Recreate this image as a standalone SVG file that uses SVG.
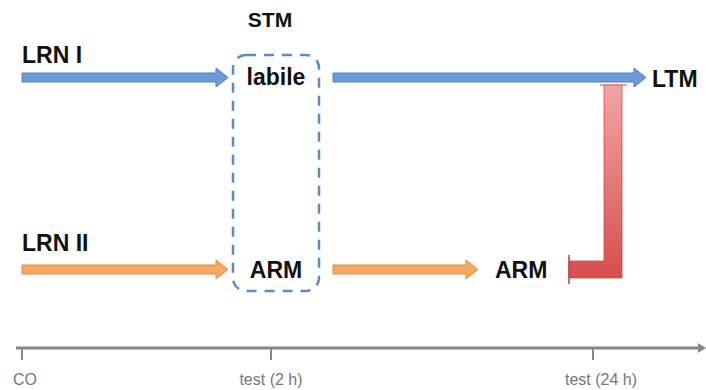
<svg xmlns="http://www.w3.org/2000/svg" width="706" height="390" viewBox="0 0 706 390">
<style>
.lbl{font-family:"Liberation Sans",Arial,sans-serif;font-weight:bold;font-size:23px;fill:#111}
.tl{font-family:"Liberation Sans",Arial,sans-serif;font-size:16px;fill:#777}
.blue{fill:#6b9bd8;stroke:#4f7fbf;stroke-width:1}
.orange{fill:#f5a860;stroke:#e08c3c;stroke-width:1}
</style>
<defs>
<linearGradient id="red" x1="0" y1="0" x2="0" y2="1">
<stop offset="0" stop-color="#f2a5a5"/>
<stop offset="1" stop-color="#d94d4d"/>
</linearGradient>
</defs>
<rect width="706" height="390" fill="#fff"/>
<g id="connectors">
<path class="blue" d="M22,73 H216 V68 L228,77.5 L216,87 V82 H22 Z"/>
<path class="blue" d="M333,73 H634 V68 L646,77.5 L634,87 V82 H333 Z"/>
<path class="orange" d="M22,265 H216 V260 L228,269.5 L216,279 V274 H22 Z"/>
<path class="orange" d="M333,265 H466 V260 L478,269.5 L466,279 V274 H333 Z"/>
<path d="M604,85 H622 V278 H569 V261 H604 Z" fill="url(#red)" stroke="#c84a4a" stroke-width="0.8"/>
<line x1="569" y1="255" x2="569" y2="284" stroke="#b04040" stroke-width="1.5"/>
<line x1="600" y1="85" x2="627" y2="85" stroke="#d58a8a" stroke-width="1.5"/>
</g>
<g id="stm">
<rect x="233" y="55" width="86" height="236" rx="13" fill="none" stroke="#5b8bc9" stroke-width="2.5" stroke-dasharray="10,8"/>
<text class="lbl" x="270" y="27" text-anchor="middle" style="font-size:21px">STM</text>
</g>
<g id="lrn1"><text class="lbl" x="22" y="63">LRN I</text></g>
<g id="labile"><text class="lbl" x="276" y="85" text-anchor="middle">labile</text></g>
<g id="ltm"><text class="lbl" x="652" y="87">LTM</text></g>
<g id="lrn2"><text class="lbl" x="22" y="251">LRN II</text></g>
<g id="arm1"><text class="lbl" x="276" y="278" text-anchor="middle">ARM</text></g>
<g id="arm2"><text class="lbl" x="495" y="278">ARM</text></g>
<g id="timeline">
<line x1="16" y1="348" x2="703" y2="348" stroke="#888" stroke-width="3"/>
<path d="M698,343 L706,348 L698,353 Z" fill="#888"/>
<line x1="22" y1="347" x2="22" y2="360" stroke="#888" stroke-width="2"/>
<line x1="271" y1="347" x2="271" y2="360" stroke="#888" stroke-width="2"/>
<line x1="593" y1="347" x2="593" y2="360" stroke="#888" stroke-width="2"/>
<text class="tl" x="13" y="385">CO</text>
<text class="tl" x="271" y="385" text-anchor="middle">test (2 h)</text>
<text class="tl" x="601" y="385" text-anchor="middle">test (24 h)</text>
</g>
</svg>
